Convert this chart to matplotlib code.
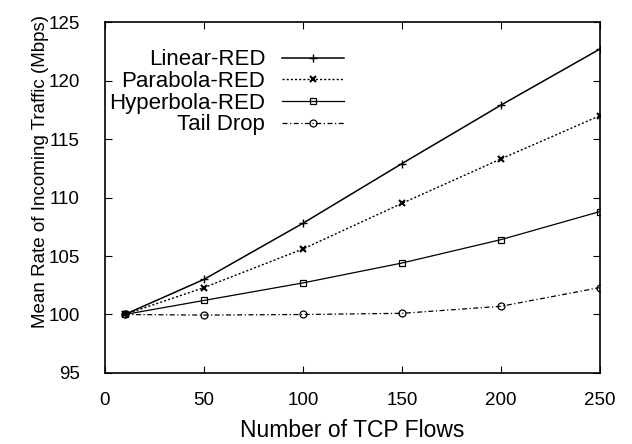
import matplotlib
matplotlib.use('Agg')
import matplotlib.pyplot as plt

plt.rcParams['font.family'] = ['Liberation Sans', 'DejaVu Sans']

flows = [10, 50, 100, 150, 200, 250]
linear_red = [100.0, 103.0, 107.8, 112.9, 117.9, 122.7]
parabola_red = [100.0, 102.3, 105.6, 109.5, 113.3, 117.0]
hyperbola_red = [100.0, 101.2, 102.7, 104.4, 106.4, 108.8]
tail_drop = [100.0, 99.95, 100.0, 100.1, 100.7, 102.3]

fig = plt.figure(figsize=(6.32, 4.44), dpi=100)
ax = fig.add_axes([0.166, 0.160, 0.783, 0.790])

ax.plot(flows, linear_red, color='k', lw=1.1, ls='-', marker='+', ms=6, mew=1,
        label='Linear-RED')
ax.plot(flows, parabola_red, color='k', lw=1.0, ls=(0, (1.5, 1.5)), marker='x', ms=4, mew=1.5,
        label='Parabola-RED')
ax.plot(flows, hyperbola_red, color='k', lw=0.9, ls='-', marker='s', ms=5, mfc='none', mew=0.9,
        label='Hyperbola-RED')
ax.plot(flows, tail_drop, color='k', lw=0.9, ls=(0, (4, 2, 1, 2)), marker='o', ms=5, mfc='none', mew=0.9,
        label='Tail Drop')

ax.set_xlim(0, 250)
ax.set_ylim(95, 125)
ax.set_xticks([0, 50, 100, 150, 200, 250])
ax.set_yticks([95, 100, 105, 110, 115, 120, 125])
ax.tick_params(direction='in', top=True, right=True, labelsize=13.5, length=5)
ax.tick_params(axis='x', pad=14)
ax.tick_params(axis='y', pad=18)
for s in ax.spines.values():
    s.set_linewidth(1.2)

ax.set_xlabel('Number of TCP Flows', fontsize=16.5, labelpad=7)
ax.set_ylabel('Mean Rate of Incoming Traffic (Mbps)', fontsize=13.5)
ax.yaxis.set_label_coords(-0.112, 0.573)

ax.legend(loc='upper left', bbox_to_anchor=(0.0, 0.935), frameon=False, markerfirst=False,
          fontsize=16, handlelength=2.8, labelspacing=0.03, borderaxespad=0.0, borderpad=0.2,
          handletextpad=0.75)

fig.savefig('out.png', dpi=100)
